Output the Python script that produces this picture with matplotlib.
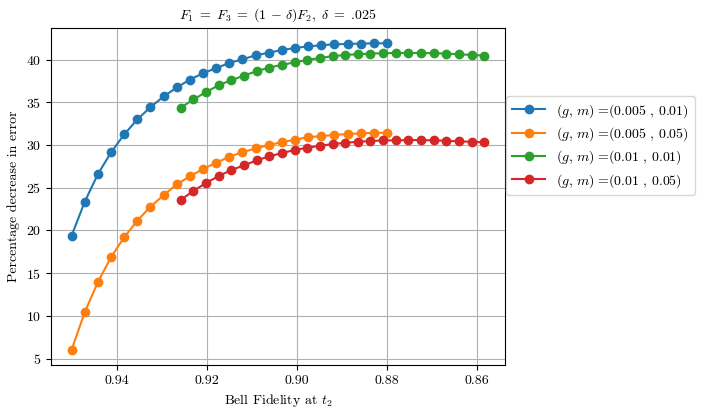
import numpy as np
import matplotlib
matplotlib.use("Agg")
import matplotlib.pyplot as plt

plt.rcParams['font.family'] = 'serif'
plt.rcParams['font.serif'] = ['cmr10']
plt.rcParams['mathtext.fontset'] = 'cm'
plt.rcParams['axes.formatter.use_mathtext'] = True
plt.rcParams['axes.unicode_minus'] = False

# x values (Bell fidelity at t2)
x_a = np.linspace(0.95, 0.88, 25)     # (0.005, *)
x_b = np.linspace(0.9258, 0.8584, 25)  # (0.01, *)

y_g005_m01 = [19.4, 23.37, 26.6, 29.14, 31.24, 33.0, 34.43, 35.68, 36.73, 37.66,
              38.4, 39.0, 39.6, 40.03, 40.5, 40.8, 41.12, 41.35, 41.55, 41.67,
              41.79, 41.82, 41.87, 41.9, 41.9]
y_g005_m05 = [6.05, 10.45, 13.96, 16.88, 19.21, 21.15, 22.79, 24.12, 25.4, 26.34,
              27.19, 27.93, 28.63, 29.17, 29.6, 29.99, 30.34, 30.61, 30.93, 31.04,
              31.19, 31.28, 31.36, 31.43, 31.43]
y_g01_m01 = [34.35, 35.33, 36.18, 37.0, 37.58, 38.13, 38.63, 39.07, 39.37, 39.68,
             39.95, 40.19, 40.39, 40.54, 40.62, 40.7, 40.74, 40.77, 40.77, 40.77,
             40.74, 40.7, 40.62, 40.54, 40.46]
y_g01_m05 = [23.57, 24.62, 25.55, 26.37, 27.07, 27.62, 28.2, 28.67, 29.06, 29.41,
             29.68, 29.91, 30.11, 30.26, 30.38, 30.46, 30.54, 30.54, 30.58, 30.58,
             30.54, 30.5, 30.42, 30.38, 30.31]

labels = [r'$(g,\,m)\;$=' + '(0.005 , 0.01)',
          r'$(g,\,m)\;$=' + '(0.005 , 0.05)',
          r'$(g,\,m)\;$=' + '(0.01 , 0.01)',
          r'$(g,\,m)\;$=' + '(0.01 , 0.05)']

fig = plt.figure(figsize=(7.1, 4.16), dpi=100)
ax = fig.add_axes([51/710, 1-365/416, (505-51)/710, (365-28)/416])

ax.plot(x_a, y_g005_m01, 'o-', label=labels[0])
ax.plot(x_a, y_g005_m05, 'o-', label=labels[1])
ax.plot(x_b, y_g01_m01, 'o-', label=labels[2])
ax.plot(x_b, y_g01_m05, 'o-', label=labels[3])

ax.invert_xaxis()
ax.set_xticks([0.94, 0.92, 0.90, 0.88, 0.86])
ax.set_xticklabels(['0.94', '0.92', '0.90', '0.88', '0.86'])
ax.set_yticks([5, 10, 15, 20, 25, 30, 35, 40])
ax.grid(True)
ax.set_xlabel(r'Bell Fidelity at $t_2$')
ax.set_ylabel('Percentage decrease in error')
ax.set_title(r'$F_1 \;=\; F_3 \;=\; (1\,-\,\delta)F_2,\ \delta \;=\;$' + '.025',
             fontsize=10, pad=7)
ax.legend(loc='lower left', bbox_to_anchor=(1.0, 0.5), borderaxespad=0.1,
          handlelength=2.4, labelspacing=0.4)

fig.savefig('out.png', dpi=100)
